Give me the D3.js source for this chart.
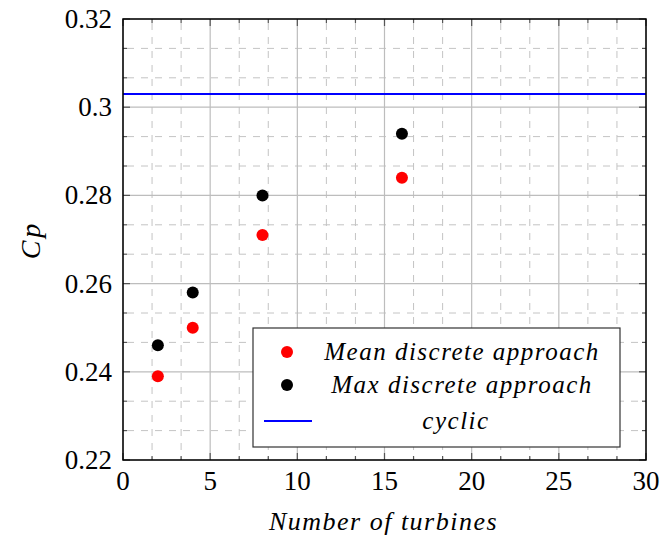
<!DOCTYPE html>
<html><head><meta charset="utf-8">
<script src="https://cdn.jsdelivr.net/npm/d3@7"></script>
<style>body{margin:0;background:#fff}</style>
</head><body>
<svg id="c" width="662" height="543"></svg>
<script>
const turbines = [2, 4, 8, 16];
const meanCp = [0.239, 0.250, 0.271, 0.284];
const maxCp = [0.246, 0.258, 0.280, 0.294];
const cyclicCp = 0.303;
const xTicks = [0, 5, 10, 15, 20, 25, 30];
const yTicks = [0.22, 0.24, 0.26, 0.28, 0.30, 0.32];
const yTickLabels = ["0.22", "0.24", "0.26", "0.28", "0.3", "0.32"];
const legendLabels = ["Mean discrete approach", "Max discrete approach", "cyclic"];

const FONT = "'Liberation Serif', serif";
const L = 123, R = 646, T = 19, B = 460;
const svg = d3.select("#c");
const x = d3.scaleLinear().domain([0, 30]).range([L, R]);
const y = d3.scaleLinear().domain([0.22, 0.32]).range([B, T]);

const xMinor = d3.range(0, 30.001, 5/3).filter((v,i)=> i%3!==0);
const yMinor = d3.range(0, 16).map(i => 0.22 + i*0.02/3).filter((v,i)=> i%3!==0 && v < 0.3201);

const g = svg.append("g");
g.selectAll(".mx").data(xMinor).join("line").attr("x1",d=>x(d)).attr("x2",d=>x(d)).attr("y1",T).attr("y2",B)
  .attr("stroke","#c4c4c4").attr("stroke-dasharray","7,7").attr("stroke-dashoffset",-4);
g.selectAll(".my").data(yMinor).join("line").attr("y1",d=>y(d)).attr("y2",d=>y(d)).attr("x1",L).attr("x2",R)
  .attr("stroke","#c4c4c4").attr("stroke-dasharray","7,7").attr("stroke-dashoffset",-4);
g.selectAll(".Mx").data(xTicks).join("line").attr("x1",d=>x(d)).attr("x2",d=>x(d)).attr("y1",T).attr("y2",B)
  .attr("stroke","#bdbdbd").attr("stroke-width",1.2);
g.selectAll(".My").data(yTicks).join("line").attr("y1",d=>y(d)).attr("y2",d=>y(d)).attr("x1",L).attr("x2",R)
  .attr("stroke","#bdbdbd").attr("stroke-width",1.2);

const tk = svg.append("g").attr("stroke","#555").attr("stroke-width",1.2);
xTicks.forEach(v=>{
  tk.append("line").attr("x1",x(v)).attr("x2",x(v)).attr("y1",B).attr("y2",B-7);
  tk.append("line").attr("x1",x(v)).attr("x2",x(v)).attr("y1",T).attr("y2",T+7);
});
xMinor.forEach(v=>{
  tk.append("line").attr("x1",x(v)).attr("x2",x(v)).attr("y1",B).attr("y2",B-4);
  tk.append("line").attr("x1",x(v)).attr("x2",x(v)).attr("y1",T).attr("y2",T+4);
});
yTicks.forEach(v=>{
  tk.append("line").attr("y1",y(v)).attr("y2",y(v)).attr("x1",L).attr("x2",L+7);
  tk.append("line").attr("y1",y(v)).attr("y2",y(v)).attr("x1",R).attr("x2",R-7);
});
yMinor.forEach(v=>{
  tk.append("line").attr("y1",y(v)).attr("y2",y(v)).attr("x1",L).attr("x2",L+4);
  tk.append("line").attr("y1",y(v)).attr("y2",y(v)).attr("x1",R).attr("x2",R-4);
});

svg.append("line").attr("x1",L).attr("x2",R).attr("y1",y(cyclicCp)).attr("y2",y(cyclicCp))
  .attr("stroke","#0000ff").attr("stroke-width",2);

svg.append("g").selectAll("circle").data(turbines.map((t,i)=>[t,maxCp[i]])).join("circle")
  .attr("cx",d=>x(d[0])).attr("cy",d=>y(d[1])).attr("r",6).attr("fill","#000");
svg.append("g").selectAll("circle").data(turbines.map((t,i)=>[t,meanCp[i]])).join("circle")
  .attr("cx",d=>x(d[0])).attr("cy",d=>y(d[1])).attr("r",6).attr("fill","#ff0000");

svg.append("rect").attr("x",L).attr("y",T).attr("width",R-L).attr("height",B-T)
  .attr("fill","none").attr("stroke","#000").attr("stroke-width",1.5);

function ff(sel){ return sel.style("font-family", FONT, "important"); }

svg.append("g").selectAll("text").data(xTicks).join("text")
  .attr("x",d=>x(d)).attr("y",B+30).attr("text-anchor","middle")
  .attr("font-size",27).call(ff).text(d=>d);
svg.append("g").selectAll("text").data(yTicks).join("text")
  .attr("x",L-11).attr("y",d=>y(d)+9).attr("text-anchor","end")
  .attr("font-size",27).call(ff).text((d,i)=>yTickLabels[i]);

svg.append("text").attr("x",x(15)-1).attr("y",530).attr("text-anchor","middle")
  .attr("font-style","italic").attr("font-size",26).attr("letter-spacing",1.5).call(ff)
  .text("Number of turbines");
svg.append("text").attr("transform","translate(40,240) rotate(-90)").attr("text-anchor","middle")
  .attr("font-style","italic").attr("font-size",28).attr("letter-spacing",3).call(ff)
  .text("Cp");

const lg = svg.append("g");
lg.append("rect").attr("x",253).attr("y",328).attr("width",367).attr("height",119)
  .attr("fill","#fff").attr("stroke","#333").attr("stroke-width",1.2);
const rowsY = [352, 385, 421];
lg.append("circle").attr("cx",287).attr("cy",rowsY[0]).attr("r",6).attr("fill","#ff0000");
lg.append("circle").attr("cx",287).attr("cy",rowsY[1]).attr("r",6).attr("fill","#000");
lg.append("line").attr("x1",264).attr("x2",312).attr("y1",rowsY[2]).attr("y2",rowsY[2])
  .attr("stroke","#0000ff").attr("stroke-width",2);
lg.selectAll("text").data(legendLabels).join("text")
  .attr("x",(d,i)=> i===2 ? 456 : 462).attr("y",(d,i)=>rowsY[i]+8).attr("text-anchor","middle")
  .attr("font-style","italic").attr("font-size",25).attr("letter-spacing",1.5).call(ff)
  .text(d=>d);
</script>
</body></html>
